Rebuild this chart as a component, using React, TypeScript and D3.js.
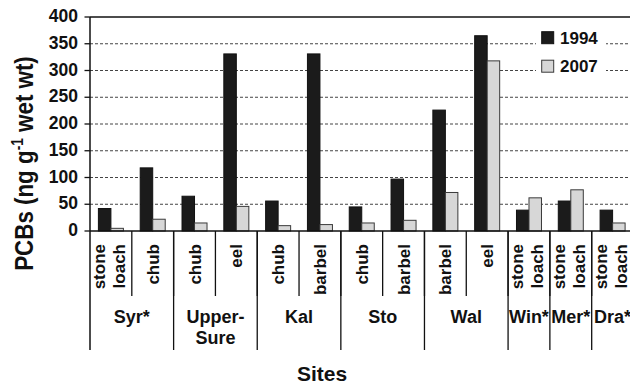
import React from "react";
import * as d3 from "d3";

const categories = ["Syr-sl", "Syr-chub", "US-chub", "US-eel", "Kal-chub", "Kal-barbel", "Sto-chub", "Sto-barbel", "Wal-barbel", "Wal-eel", "Win-sl", "Mer-sl", "Dra-sl"];
const species = [["stone", "loach"], ["chub"], ["chub"], ["eel"], ["chub"], ["barbel"], ["chub"], ["barbel"], ["barbel"], ["eel"], ["stone", "loach"], ["stone", "loach"], ["stone", "loach"]];
const sites = [
  { name: ["Syr*"], n: 2 },
  { name: ["Upper-", "Sure"], n: 2 },
  { name: ["Kal"], n: 2 },
  { name: ["Sto"], n: 2 },
  { name: ["Wal"], n: 2 },
  { name: ["Win*"], n: 1 },
  { name: ["Mer*"], n: 1 },
  { name: ["Dra*"], n: 1 },
];
const series = ["1994", "2007"];
const values1994 = [42, 118, 65, 331, 56, 331, 45, 97, 226, 365, 39, 56, 39];
const values2007 = [5, 22, 15, 46, 10, 12, 15, 20, 72, 318, 62, 77, 15];
const yTicks = [0, 50, 100, 150, 200, 250, 300, 350, 400];

export default function App() {
  const left = 90, right = 633.5, top = 17, bottom = 231;
  const x = d3.scaleBand<string>().domain(categories).range([left, right]).paddingInner(0).paddingOuter(0);
  const xs = d3.scaleBand<string>().domain(series).range([0, x.bandwidth()]).paddingInner(0).paddingOuter(0.672);
  const y = d3.scaleLinear().domain([0, 400]).range([bottom, top]);
  const font = "Arial, 'Liberation Sans', Helvetica, sans-serif";
  const fills = ["#1b1b1b", "#d7d7d7"];
  const strokes = ["#111", "#3a3a3a"];
  const data = [values1994, values2007];

  let acc = 0;
  const siteBounds = sites.map((s) => {
    const x0 = x(categories[acc])!;
    acc += s.n;
    const x1 = acc < categories.length ? x(categories[acc])! : right;
    return { ...s, x0, x1 };
  });

  return (
    <svg width={630} height={386} style={{ position: "absolute", left: 0, top: 0, background: "#fff" }} fontFamily={font} fontWeight="bold">
      <rect width={630} height={386} fill="#fff" />
      {/* gridlines */}
      {yTicks.filter((t) => t > 0 && t < 400).map((t) => (
        <line key={t} x1={left} x2={right} y1={y(t)} y2={y(t)} stroke="#444" strokeWidth={1} strokeDasharray="3,2" />
      ))}
      <line x1={left} x2={right} y1={y(400)} y2={y(400)} stroke="#111" strokeWidth={1.3} />
      {/* legend */}
      <rect x={536} y={22} width={70} height={58} fill="#fff" />
      {series.map((s, i) => (
        <g key={s}>
          <rect x={541.7} y={31.7 + i * 28.5} width={12} height={12} fill={fills[i]} stroke={strokes[i]} strokeWidth={1} />
          <text x={560} y={44 + i * 28} fontSize={17} fontWeight="bold" fill="#111">{s}</text>
        </g>
      ))}
      {/* bars */}
      {categories.map((c, ci) => (
        <g key={c}>
          {series.map((s, si) => (
            <rect key={s} x={x(c)! + xs(s)!} y={y(data[si][ci])} width={xs.bandwidth()} height={y(0) - y(data[si][ci])}
              fill={fills[si]} stroke={strokes[si]} strokeWidth={1} />
          ))}
        </g>
      ))}
      {/* axes */}
      <line x1={left} x2={right} y1={bottom} y2={bottom} stroke="#111" strokeWidth={1.5} />
      <line x1={left} x2={left} y1={top} y2={350} stroke="#111" strokeWidth={1.5} />
      {yTicks.map((t) => (
        <g key={t}>
          <line x1={84.5} x2={left} y1={y(t)} y2={y(t)} stroke="#111" strokeWidth={1.3} />
          <text x={78} y={y(t) - 1} dy="0.35em" textAnchor="end" fontSize={17.5} fontWeight="bold" fill="#111">{t}</text>
        </g>
      ))}
      {/* species separators and labels */}
      {categories.map((c, ci) => {
        const cx = x(c)! + x.bandwidth() / 2;
        const words = species[ci];
        const offs = words.length === 2 ? [-5.5, 14] : [6];
        return (
          <g key={c}>
            {ci > 0 && <line x1={x(c)!} x2={x(c)!} y1={bottom} y2={296} stroke="#111" strokeWidth={1.3} />}
            {words.map((w, wi) => (
              <text key={wi} transform={`translate(${cx + offs[wi]},244) rotate(-90)`} textAnchor="end" fontSize={17} fontWeight="bold" fill="#111">{w}</text>
            ))}
          </g>
        );
      })}
      {/* site separators and labels */}
      {siteBounds.map((s, i) => (
        <g key={i}>
          {i > 0 && <line x1={s.x0} x2={s.x0} y1={bottom} y2={350} stroke="#111" strokeWidth={1.3} />}
          {s.name.map((n, ni) => (
            <text key={ni} x={(s.x0 + s.x1) / 2} y={323 + ni * 21} textAnchor="middle" fontSize={18} fontWeight="bold" fill="#111">{n}</text>
          ))}
        </g>
      ))}
      {/* axis titles */}
      <text x={322} y={381} textAnchor="middle" fontSize={21} fontWeight="bold" fill="#111">Sites</text>
      <text transform="translate(33,163.5) rotate(-90) scale(0.86,1)" textAnchor="middle" fontSize={26} fontWeight="bold" fill="#111">
        PCBs (ng g<tspan dy={-10} fontSize={16}>-1</tspan><tspan dy={10}> wet wt)</tspan>
      </text>
    </svg>
  );
}
